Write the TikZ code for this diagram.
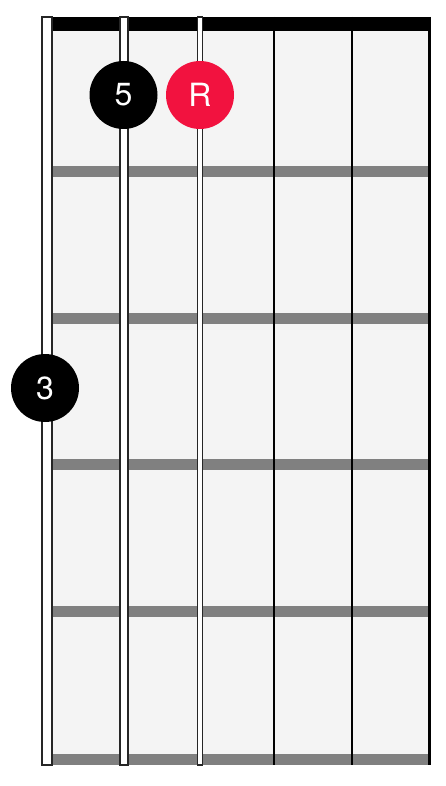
\documentclass[tikz,border=0pt]{standalone}
\usepackage{fontspec}
\setmainfont{TeX Gyre Heros}
\usetikzlibrary{positioning}
\definecolor{board}{HTML}{F4F4F4}
\definecolor{fretgray}{HTML}{808080}
\definecolor{rootred}{HTML}{F2123F}

\begin{document}
\begin{tikzpicture}[x=1pt,y=-1pt,node distance=76.5pt,on grid,
  note/.style={circle,fill=black,text=white,minimum size=68pt,inner sep=0pt,
    font=\fontsize{32}{32}\selectfont},
  root/.style={note,fill=rootred},
  fret/.style={fretgray,line width=11pt},
  thick string/.style={fill=white,draw=black!85,line width=1.2pt},
  thin string/.style={black,line width=2.6pt}]
  \useasboundingbox (0,0) rectangle (446,786);

  % board
  \fill[board] (52,17) rectangle (430,765);

  % frets
  \draw[fret] (52,171.5) -- (430,171.5);
  \draw[fret] (52,318) -- (430,318);
  \draw[fret] (52,464.5) -- (430,464.5);
  \draw[fret] (52,611) -- (430,611);
  \draw[fret] (52,759) -- (430,759);

  % nut
  \fill[black] (52,17) rectangle (430,31);

  % strings
  \filldraw[thick string] (42,17) rectangle (52,765);
  \filldraw[thick string] (120,17) rectangle (128,765);
  \filldraw[thick string] (197.5,17) rectangle (202.5,765);
  \draw[thin string] (274,17) -- (274,765);
  \draw[thin string] (352,17) -- (352,765);
  \draw[thin string] (429.5,17) -- (429.5,765);

  % notes
  \node[note] (fifth) at (123.5,95) {5};
  \node[root] (root) [right=of fifth] {R};
  \node[note] (third) at (45,388) {3};
\end{tikzpicture}
\end{document}
